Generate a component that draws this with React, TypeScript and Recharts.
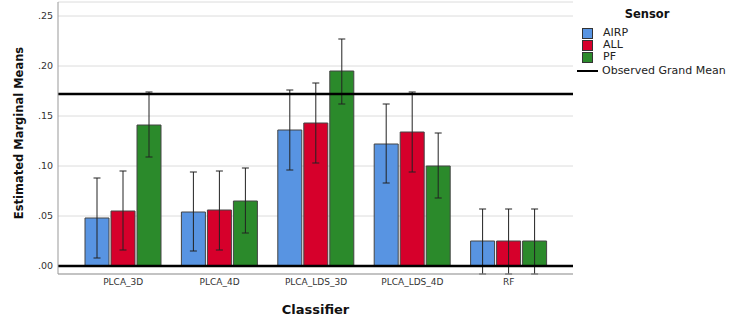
import React from 'react';
import { BarChart, Bar, XAxis, YAxis, CartesianGrid, ReferenceLine, ErrorBar } from 'recharts';

const categories = ['PLCA_3D', 'PLCA_4D', 'PLCA_LDS_3D', 'PLCA_LDS_4D', 'RF'];
const seriesNames = ['AIRP', 'ALL', 'PF'];
const airpMean = [0.048, 0.054, 0.136, 0.122, 0.025];
const airpLow = [0.008, 0.015, 0.096, 0.083, -0.008];
const airpHigh = [0.088, 0.094, 0.176, 0.162, 0.057];
const allMean = [0.055, 0.056, 0.143, 0.134, 0.025];
const allLow = [0.016, 0.016, 0.103, 0.094, -0.008];
const allHigh = [0.095, 0.095, 0.183, 0.174, 0.057];
const pfMean = [0.141, 0.065, 0.195, 0.100, 0.025];
const pfLow = [0.109, 0.033, 0.162, 0.068, -0.008];
const pfHigh = [0.174, 0.098, 0.227, 0.133, 0.057];
const grandMean = 0.172;
const yTicks = [0, 0.05, 0.1, 0.15, 0.2, 0.25];

const colors = ['#5894E2', '#D6002B', '#2B8A2B'];
const FONT = "'DejaVu Sans', sans-serif";

const data = categories.map((c, i) => ({
  name: c,
  AIRP: airpMean[i],
  AIRPerr: [airpMean[i] - airpLow[i], airpHigh[i] - airpMean[i]],
  ALL: allMean[i],
  ALLerr: [allMean[i] - allLow[i], allHigh[i] - allMean[i]],
  PF: pfMean[i],
  PFerr: [pfMean[i] - pfLow[i], pfHigh[i] - pfMean[i]],
}));

const fmt = (v: number) => v.toFixed(2).replace(/^0/, '').replace(/^-0/, '-');

const CustomLegend = () => (
  <div style={{ position: 'absolute', left: 575, top: 4, width: 160, height: 80, fontFamily: FONT, color: '#222' }}>
    <div style={{ position: 'absolute', left: 42, top: 3, width: 60, textAlign: 'center', fontWeight: 'bold', fontSize: 11.5, lineHeight: '14px', color: '#111' }}>Sensor</div>
    {seriesNames.map((n, i) => (
      <div key={n} style={{ position: 'absolute', left: 7, top: 23 + i * 12, height: 12, display: 'flex', alignItems: 'center' }}>
        <div style={{ width: 9, height: 9, background: colors[i], border: '1px solid #333' }} />
        <span style={{ marginLeft: 10, fontSize: 11, lineHeight: '12px' }}>{n}</span>
      </div>
    ))}
    <div style={{ position: 'absolute', left: 2, top: 61, height: 12, display: 'flex', alignItems: 'center' }}>
      <div style={{ width: 21, height: 2.5, background: '#000' }} />
      <span style={{ marginLeft: 4, fontSize: 11, lineHeight: '12px' }}>Observed Grand Mean</span>
    </div>
  </div>
);

export default function App() {
  return (
    <div style={{ position: 'absolute', left: 0, top: 0, width: 736, height: 322, background: '#fff', fontFamily: FONT }}>
      <BarChart
        width={736}
        height={322}
        data={data}
        margin={{ top: 2, right: 163, left: 0, bottom: 0 }}
        barSize={24}
        barGap={2}
      >
        <CartesianGrid horizontal vertical={false} stroke="#dcdcdc" />
        <XAxis
          dataKey="name"
          height={48}
          padding={{ left: 17, right: 16 }}
          axisLine={{ stroke: '#999' }}
          tickLine={false}
          tickSize={4}
          tickMargin={1}
          tick={{ fontSize: 9, fill: '#333', fontFamily: FONT }}
          interval={0}
          label={{ value: 'Classifier', position: 'insideBottom', offset: 8, style: { fontSize: 13, fontWeight: 'bold', fill: '#111', fontFamily: FONT } }}
        />
        <YAxis
          type="number"
          domain={[-0.008, 0.264]}
          ticks={yTicks}
          width={58}
          allowDataOverflow
          axisLine={{ stroke: '#999' }}
          tickLine={false}
          tickSize={3}
          tickMargin={2}
          tickFormatter={fmt}
          tick={{ fontSize: 9.5, fill: '#333', fontFamily: FONT }}
          label={{
            content: () => (
              <text x={19} y={133} transform="rotate(-90 19 133)" textAnchor="middle" dominantBaseline="middle" style={{ fontSize: 11.5, fontWeight: 'bold', fill: '#111', fontFamily: FONT }}>
                Estimated Marginal Means
              </text>
            ),
          }}
        />
        <Bar dataKey="AIRP" fill={colors[0]} stroke="#444" strokeWidth={1} isAnimationActive={false}>
          <ErrorBar dataKey="AIRPerr" width={3.5} stroke="#222" strokeWidth={1} />
        </Bar>
        <Bar dataKey="ALL" fill={colors[1]} stroke="#444" strokeWidth={1} isAnimationActive={false}>
          <ErrorBar dataKey="ALLerr" width={3.5} stroke="#222" strokeWidth={1} />
        </Bar>
        <Bar dataKey="PF" fill={colors[2]} stroke="#444" strokeWidth={1} isAnimationActive={false}>
          <ErrorBar dataKey="PFerr" width={3.5} stroke="#222" strokeWidth={1} />
        </Bar>
        <ReferenceLine y={0} stroke="#000" strokeWidth={2.5} />
        <ReferenceLine y={grandMean} stroke="#000" strokeWidth={2.5} />
      </BarChart>
      <CustomLegend />
    </div>
  );
}
